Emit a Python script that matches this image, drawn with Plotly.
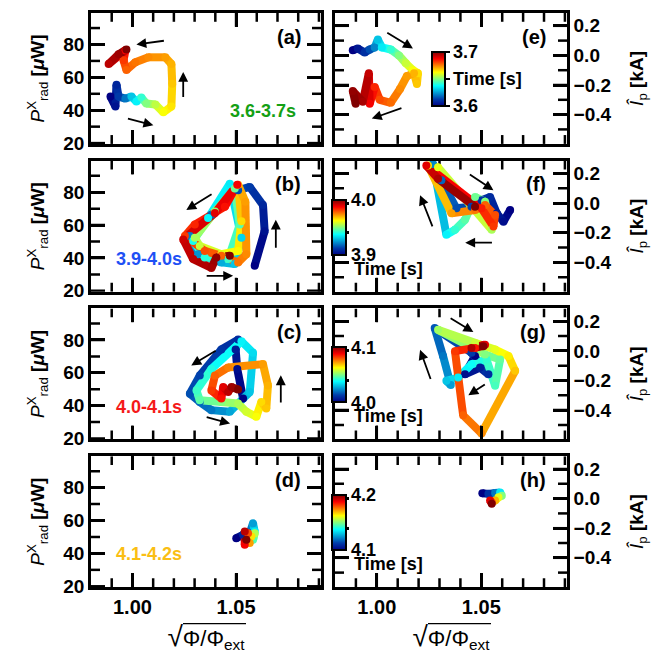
import plotly.graph_objects as go
from plotly.colors import sample_colorscale

# ---------------- data ----------------
# x: sqrt(Phi/Phi_ext); left panels y: P_rad^X [uW]; right panels y: I_p hat [kA]; t: time [s]
a_x = [0.9894, 0.9918, 0.9923, 0.9933, 0.9966, 0.9995, 1.0019, 1.0043, 1.0067, 1.0111, 1.0149, 1.0188,
       1.0192, 1.0188, 1.0159, 1.0077, 1.0014, 0.9971, 0.9957, 0.9966, 0.9885, 0.9933, 0.9971]
a_y = [48.3, 42.3, 55.5, 48.3, 47.1, 48.3, 45.3, 47.7, 44.1, 43.5, 38.7, 42.3,
       56.1, 68.1, 72.2, 72.2, 69.2, 64.5, 70.4, 76.4, 68.1, 74.0, 77.0]
a_t = [3.600, 3.604, 3.608, 3.612, 3.620, 3.630, 3.636, 3.642, 3.650, 3.656, 3.662, 3.665,
       3.668, 3.670, 3.672, 3.674, 3.676, 3.678, 3.682, 3.688, 3.694, 3.697, 3.700]

e_x = [0.9885, 0.9909, 0.9942, 0.9966, 0.9990, 1.0005, 1.0024, 1.0067, 1.0106, 1.0139, 1.0173, 1.0197,
       1.0192, 1.0178, 1.0144, 1.0111, 1.0067, 1.0014, 0.9990, 0.9966, 0.9962, 0.9933, 0.9885, 0.9899]
e_y = [0.034, 0.047, 0.020, 0.040, 0.054, 0.107, 0.054, 0.040, 0.000, -0.053, -0.100, -0.120,
       -0.193, -0.120, -0.140, -0.227, -0.320, -0.300, -0.213, -0.327, -0.120, -0.313, -0.240, -0.327]
e_t = [3.600, 3.605, 3.610, 3.615, 3.622, 3.630, 3.635, 3.642, 3.650, 3.657, 3.662, 3.666,
       3.668, 3.670, 3.672, 3.674, 3.677, 3.680, 3.684, 3.688, 3.693, 3.696, 3.698, 3.700]

b_x = [1.0590, 1.0638, 1.0630, 1.0566, 1.0510, 1.0381, 1.0277, 1.0317, 1.0429, 1.0494, 1.0526, 1.0470,
       1.0365, 1.0293, 1.0349, 1.0462, 1.0518, 1.0494, 1.0398, 1.0301, 1.0325, 1.0429, 1.0510, 1.0526,
       1.0510, 1.0545, 1.0550, 1.0510, 1.0429, 1.0349, 1.0253, 1.0301, 1.0446, 1.0506, 1.0398, 1.0245,
       1.0293, 1.0381, 1.0405, 1.0470]
b_y = [35.3, 56.3, 72.2, 83.2, 81.2, 66.3, 53.3, 42.3, 37.3, 36.3, 52.3, 85.2,
       64.3, 50.3, 40.3, 39.3, 60.3, 82.2, 68.3, 52.3, 47.3, 42.3, 44.3, 62.3,
       84.6, 74.2, 42.3, 37.3, 41.3, 44.3, 53.3, 60.3, 71.2, 84.6, 67.3, 51.3,
       39.3, 33.9, 40.3, 41.3]
b_t = [3.900, 3.904, 3.908, 3.912, 3.915, 3.918, 3.921, 3.924, 3.927, 3.930, 3.932, 3.935,
       3.937, 3.939, 3.941, 3.943, 3.945, 3.948, 3.951, 3.954, 3.957, 3.960, 3.963, 3.966,
       3.970, 3.972, 3.974, 3.976, 3.978, 3.980, 3.982, 3.984, 3.986, 3.988, 3.990, 3.992,
       3.994, 3.996, 3.998, 4.000]

f_x = [1.0638, 1.0606, 1.0574, 1.0542, 1.0501, 1.0453, 1.0381, 1.0309, 1.0269, 1.0333, 1.0374, 1.0422,
       1.0470, 1.0518, 1.0550, 1.0293, 1.0245, 1.0357, 1.0470, 1.0518, 1.0566, 1.0558, 1.0501, 1.0237,
       1.0293, 1.0470]
f_y = [-0.046, -0.125, -0.069, 0.042, 0.020, -0.024, -0.035, 0.154, 0.265, -0.213, -0.180, -0.113,
       0.042, 0.009, -0.180, 0.242, 0.254, -0.069, -0.046, -0.013, -0.080, -0.158, -0.035, 0.254,
       0.165, -0.024]
f_t = [3.900, 3.903, 3.906, 3.909, 3.911, 3.913, 3.915, 3.918, 3.922, 3.936, 3.942, 3.946,
       3.948, 3.950, 3.954, 3.960, 3.966, 3.972, 3.976, 3.978, 3.980, 3.982, 3.985, 3.990,
       3.995, 4.000]

c_x = [1.0534, 1.0506, 1.0498, 1.0510, 1.0429, 1.0325, 1.0277, 1.0325, 1.0381, 1.0470, 1.0566, 1.0582,
       1.0526, 1.0381, 1.0309, 1.0325, 1.0429, 1.0510, 1.0550, 1.0598, 1.0622, 1.0646, 1.0654, 1.0630,
       1.0462, 1.0398, 1.0381, 1.0429, 1.0438, 1.0462, 1.0478, 1.0510]
c_y = [44.3, 62.3, 74.2, 80.2, 74.2, 58.3, 47.3, 42.3, 37.3, 36.3, 48.3, 72.2,
       79.2, 62.3, 49.3, 43.3, 42.3, 41.3, 36.3, 33.3, 42.3, 38.3, 52.3, 65.3,
       63.3, 58.3, 49.3, 44.3, 51.3, 48.3, 51.3, 49.9]
c_t = [4.000, 4.003, 4.006, 4.009, 4.011, 4.013, 4.015, 4.018, 4.020, 4.026, 4.030, 4.033,
       4.036, 4.040, 4.043, 4.046, 4.050, 4.054, 4.058, 4.062, 4.066, 4.068, 4.070, 4.072,
       4.075, 4.078, 4.082, 4.086, 4.090, 4.094, 4.097, 4.100]

g_x = [1.0470, 1.0422, 1.0494, 1.0534, 1.0453, 1.0277, 1.0317, 1.0354, 1.0333, 1.0389, 1.0453, 1.0525,
       1.0566, 1.0590, 1.0518, 1.0293, 1.0470, 1.0566, 1.0630, 1.0662, 1.0501, 1.0413, 1.0374, 1.0470,
       1.0518, 1.0453, 1.0510]
g_y = [-0.035, -0.158, -0.113, -0.158, -0.013, 0.154, -0.035, -0.231, -0.202, -0.180, -0.091, -0.058,
       -0.235, -0.058, -0.024, 0.142, 0.054, 0.009, -0.035, -0.135, -0.558, -0.435, -0.002, 0.020,
       0.042, 0.020, 0.032]
g_t = [4.000, 4.003, 4.006, 4.009, 4.012, 4.016, 4.020, 4.025, 4.030, 4.035, 4.038, 4.042,
       4.044, 4.047, 4.050, 4.053, 4.057, 4.060, 4.064, 4.068, 4.074, 4.078, 4.082, 4.086,
       4.090, 4.095, 4.100]

d_x = [1.0501, 1.0534, 1.0566, 1.0582, 1.0590, 1.0582, 1.0590, 1.0574, 1.0566, 1.0558, 1.0542, 1.0542, 1.0550]
d_y = [49.3, 51.3, 52.3, 58.3, 53.3, 48.3, 52.3, 50.3, 46.3, 52.3, 45.3, 53.3, 48.3]
d_t = [4.100, 4.108, 4.115, 4.125, 4.135, 4.145, 4.155, 4.165, 4.172, 4.180, 4.188, 4.194, 4.200]

h_x = [1.0505, 1.0534, 1.0566, 1.0590, 1.0598, 1.0582, 1.0566, 1.0550, 1.0542, 1.0550]
h_y = [0.036, 0.032, 0.038, 0.042, 0.020, 0.009, -0.013, -0.024, -0.013, -0.035]
h_t = [4.100, 4.110, 4.120, 4.135, 4.150, 4.160, 4.170, 4.180, 4.190, 4.200]

windows = [(3.6, 3.7), (3.9, 4.0), (4.0, 4.1), (4.1, 4.2)]
window_labels = ["3.6-3.7s", "3.9-4.0s", "4.0-4.1s", "4.1-4.2s"]
x_range = [0.980, 1.091]
p_range = [19.5, 99.2]
i_range = [-0.598, 0.287]
x_major = [1.00, 1.05]
x_minor = [0.99, 1.01, 1.02, 1.03, 1.04, 1.06, 1.07, 1.08, 1.09]
p_major = [20, 40, 60, 80]
p_minor = [30, 50, 70, 90]
i_major = [-0.4, -0.2, 0.0, 0.2]
i_minor = [-0.5, -0.3, -0.1, 0.1]

# arrows: (head_x, head_y, tail_x, tail_y)
arrows = {
    "a": [(1.0019, 80.0, 1.0159, 82.4), (1.0245, 63.3, 1.0245, 47.1), (1.0101, 30.9, 0.9971, 35.1)],
    "e": [(1.0173, 0.047, 1.0043, 0.160), (0.9976, -0.427, 1.0125, -0.353)],
    "b": [(1.0260, 69.2, 1.0389, 79.4), (1.0692, 63.3, 1.0692, 45.3), (1.0486, 29.1, 1.0351, 29.1)],
    "f": [(1.0558, 0.087, 1.0438, 0.200), (1.0207, 0.054, 1.0269, -0.167), (1.0423, -0.267, 1.0558, -0.267)],
    "c": [(1.0284, 64.5, 1.0409, 74.0), (1.0716, 58.5, 1.0716, 41.1), (1.0471, 29.1, 1.0351, 33.3)],
    "g": [(1.0462, 0.127, 1.0346, 0.227), (1.0207, 0.007, 1.0260, -0.200), (1.0438, -0.300, 1.0524, -0.220)],
    "d": [],
    "h": [],
}

# ---------------- figure ----------------
W, H = 659, 662
FONT = "Liberation Sans, Arial, sans-serif"
JET = [[0, "rgb(0,0,131)"], [0.125, "rgb(0,60,170)"], [0.375, "rgb(5,255,255)"],
       [0.625, "rgb(255,255,0)"], [0.875, "rgb(250,0,0)"], [1, "rgb(128,0,0)"]]

rows_px = [(5, 138), (155, 288), (305, 438), (455, 588)]
left_px = (83, 313)
right_px = (327, 559)
MAJOR_LEN, MINOR_LEN = 14, 9   # tick lengths in pixels

def dom_x(p):
    return [p[0] / W, p[1] / W]

def dom_y(r):
    return [1 - r[1] / H, 1 - r[0] / H]

panels = [
    ("a", a_x, a_y, a_t, 0, "left"), ("e", e_x, e_y, e_t, 0, "right"),
    ("b", b_x, b_y, b_t, 1, "left"), ("f", f_x, f_y, f_t, 1, "right"),
    ("c", c_x, c_y, c_t, 2, "left"), ("g", g_x, g_y, g_t, 2, "right"),
    ("d", d_x, d_y, d_t, 3, "left"), ("h", h_x, h_y, h_t, 3, "right"),
]

fig = go.Figure()
annotations = []
shapes = []
layout = dict(width=W, height=H, margin=dict(l=0, r=0, t=0, b=0),
              paper_bgcolor="white", plot_bgcolor="white", showlegend=False,
              font=dict(family=FONT, color="black"))

label_colors = ["rgb(20,160,20)", "rgb(30,80,245)", "rgb(245,25,25)", "rgb(250,190,20)"]
axis_common = dict(ticks="inside", ticklen=MAJOR_LEN, tickwidth=2.5, tickcolor="black",
                   showline=True, linewidth=2.5, linecolor="black", mirror="ticks",
                   showgrid=False, zeroline=False)


def tick_lines(xr, yr, wpx, hpx, xmaj, xmin, ymaj, ymin):
    """Inward tick marks on all four sides, built from the tick values and the axis ranges."""
    dx = (xr[1] - xr[0]) / wpx   # data units per pixel along x
    dy = (yr[1] - yr[0]) / hpx
    X, Y = [], []
    for vals, ln in ((xmaj, MAJOR_LEN), (xmin, MINOR_LEN)):
        for v in vals:
            X += [v, v, None, v, v, None]
            Y += [yr[0], yr[0] + ln * dy, None, yr[1], yr[1] - ln * dy, None]
    for vals, ln in ((ymaj, MAJOR_LEN), (ymin, MINOR_LEN)):
        for v in vals:
            X += [xr[0], xr[0] + ln * dx, None, xr[1], xr[1] - ln * dx, None]
            Y += [v, v, None, v, v, None]
    return X, Y


for k, (name, xs, ys, ts, row, side) in enumerate(panels):
    n = k + 1
    xa = "x" if n == 1 else f"x{n}"
    ya = "y" if n == 1 else f"y{n}"
    ca = "coloraxis" if row == 0 else f"coloraxis{row + 1}"
    t0, t1 = windows[row]

    yr = p_range if side == "left" else i_range
    ymaj = p_major if side == "left" else i_major
    ymin = p_minor if side == "left" else i_minor
    xpx = left_px if side == "left" else right_px
    # tick marks first (below the trajectories)
    TX, TY = tick_lines(x_range, yr, xpx[1] - xpx[0], rows_px[row][1] - rows_px[row][0],
                        x_major, x_minor, ymaj, ymin)
    fig.add_trace(go.Scatter(x=TX, y=TY, mode="lines", line=dict(color="#000000", width=2.5),
                             hoverinfo="skip", connectgaps=False, xaxis=xa, yaxis=ya))

    # coloured segments
    for i in range(len(xs) - 1):
        v = ((ts[i] + ts[i + 1]) / 2 - t0) / (t1 - t0)
        v = min(max(v, 0), 1)
        col = sample_colorscale(JET, [v], colortype="rgb")[0]
        fig.add_trace(go.Scatter(x=[xs[i], xs[i + 1]], y=[ys[i], ys[i + 1]], mode="lines",
                                 line=dict(color=col, width=8), hoverinfo="skip",
                                 xaxis=xa, yaxis=ya))
    fig.add_trace(go.Scatter(x=xs, y=ys, mode="markers",
                             marker=dict(color=ts, coloraxis=ca, size=8, line=dict(width=0)),
                             xaxis=xa, yaxis=ya))

    bottom = row == 3
    xkey = "xaxis" if n == 1 else f"xaxis{n}"
    ykey = "yaxis" if n == 1 else f"yaxis{n}"
    xdom = dom_x(xpx)
    ydom = dom_y(rows_px[row])
    layout[xkey] = dict(
        domain=xdom, anchor=ya, range=x_range, tickvals=x_major, tickformat=".2f",
        showticklabels=bottom,
        tickfont=dict(family=FONT, size=20, color="black", weight="bold"),
        **axis_common,
    )
    if bottom:
        layout[xkey]["title"] = dict(
            text='<span style="font-size:28px">√</span>Φ/Φ<sub>ext</sub>',
            font=dict(family=FONT, size=22, color="black"), standoff=14)
    if side == "left":
        layout[ykey] = dict(
            domain=ydom, anchor=xa, range=yr, tickvals=ymaj,
            tickfont=dict(family=FONT, size=19, color="black", weight="bold"),
            title=dict(text="<i>P</i><sup>X</sup><sub>rad</sub> <b>[<i>μ</i>W]</b>",
                       font=dict(family=FONT, size=19, color="black"), standoff=14),
            **axis_common,
        )
    else:
        layout[ykey] = dict(
            domain=ydom, anchor=xa, range=yr, side="right", tickvals=ymaj, tickformat=".1f",
            tickfont=dict(family=FONT, size=19, color="black", weight="bold"),
            title=dict(text="<i>Î</i><sub>p</sub> <b>[kA]</b>",
                       font=dict(family=FONT, size=19, color="black"), standoff=20),
            **axis_common,
        )

    # panel letter
    annotations.append(dict(text=f"({name})", xref=f"{xa} domain", yref=f"{ya} domain",
                            x=0.92, y=0.82, xanchor="right", yanchor="middle", showarrow=False,
                            font=dict(family=FONT, size=20, color="black", weight="bold")))
    # window label
    if side == "left":
        if row == 0:
            annotations.append(dict(text=window_labels[row], xref=f"{xa} domain", yref=f"{ya} domain",
                                    x=0.90, y=0.25, xanchor="right", yanchor="middle", showarrow=False,
                                    font=dict(family=FONT, size=18, color=label_colors[row], weight="bold")))
        else:
            annotations.append(dict(text=window_labels[row], xref=f"{xa} domain", yref=f"{ya} domain",
                                    x=0.10, y=0.25, xanchor="left", yanchor="middle", showarrow=False,
                                    font=dict(family=FONT, size=18, color=label_colors[row], weight="bold")))
    # arrows
    for hx, hy, tx, ty in arrows[name]:
        annotations.append(dict(x=hx, y=hy, ax=tx, ay=ty, xref=xa, yref=ya, axref=xa, ayref=ya,
                                text="", showarrow=True, arrowhead=2, arrowsize=1.1,
                                arrowwidth=1.8, arrowcolor="black"))
    # overline of the square root in the x title
    if bottom:
        cx = (xpx[0] + xpx[1]) / 2
        shapes.append(dict(type="line", xref="paper", yref="paper",
                           x0=(cx - 23) / W, x1=(cx + 40) / W, y0=1 - 625 / H, y1=1 - 625 / H,
                           line=dict(color="black", width=1.3)))

# colour axes with colour bars
cb_font = dict(family=FONT, size=18, color="black", weight="bold")
for row, (t0, t1) in enumerate(windows):
    key = "coloraxis" if row == 0 else f"coloraxis{row + 1}"
    if row == 0:
        cb = dict(x=424 / W, xanchor="left", y=1 - 72 / H, yanchor="middle",
                  len=54, lenmode="pixels", thickness=13, thicknessmode="pixels",
                  xpad=0, ypad=0, outlinewidth=2, outlinecolor="black",
                  tickvals=[t0, (t0 + t1) / 2, t1], ticktext=[f"{t0:.1f}", "Time [s]", f"{t1:.1f}"],
                  ticks="outside", ticklen=4, tickwidth=2, tickcolor="black",
                  tickfont=cb_font)
    else:
        yc = (rows_px[row][0] + 67.5)
        cb = dict(x=324 / W, xanchor="left", y=1 - yc / H, yanchor="middle",
                  len=55, lenmode="pixels", thickness=14, thicknessmode="pixels",
                  xpad=0, ypad=0, outlinewidth=2, outlinecolor="black",
                  tickvals=[t0, t1], ticktext=[f"{t0:.1f}", f"{t1:.1f}"],
                  ticks="", tickfont=cb_font)
        annotations.append(dict(text="Time [s]", xref="paper", yref="paper",
                                x=344 / W, y=1 - (yc + 42) / H, xanchor="left", yanchor="middle",
                                showarrow=False, font=cb_font))
    layout[key] = dict(colorscale=JET, cmin=t0, cmax=t1, colorbar=cb)

layout["annotations"] = annotations
layout["shapes"] = shapes
fig.update_layout(**layout)
fig.write_html("out.html")
